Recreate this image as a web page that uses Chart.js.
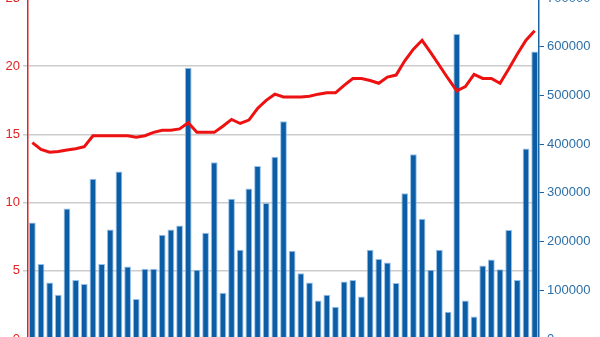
<!DOCTYPE html>
<html>
<head>
<meta charset="utf-8">
<script src="https://cdn.jsdelivr.net/npm/chart.js@4/dist/chart.umd.min.js"></script>
<style>
  html, body { margin: 0; padding: 0; background: #fff; overflow: hidden; }
  #wrap { position: absolute; left: 0; top: -20px; width: 600px; height: 380px; }
</style>
</head>
<body>
<div id="wrap"><canvas id="chart"></canvas></div>
<script>
// one category per bar
const labels = Array.from({ length: 59 }, (_, i) => 'P' + (i + 1));

// bars, right axis
const volumes = [
    239000, 154000, 116000, 91000, 268000, 121000, 113000, 329000, 154000, 225000,
    344000, 149000, 82000, 144000, 144000, 214000, 225000, 233000, 557000, 142000,
    218000, 363000, 95000, 288000, 183000, 309000, 355000, 279000, 374000, 447000,
    181000, 135000, 116000, 79000, 91000, 66000, 118000, 121000, 87000, 183000,
    164000, 157000, 115000, 299000, 379000, 247000, 142000, 183000, 56000, 626000,
    79000, 46000, 151000, 163000, 143000, 224000, 121000, 391000, 590000
];

// line, left axis
const prices = [
    14.4, 13.9, 13.7, 13.75, 13.85, 13.95, 14.1, 14.9, 14.9, 14.9,
    14.9, 14.9, 14.8, 14.9, 15.15, 15.3, 15.3, 15.4, 15.85, 15.15,
    15.15, 15.15, 15.6, 16.1, 15.8, 16.05, 16.9, 17.5, 17.95, 17.75,
    17.75, 17.75, 17.8, 17.95, 18.05, 18.05, 18.6, 19.1, 19.1, 18.95,
    18.75, 19.2, 19.35, 20.4, 21.25, 21.9, 21.0, 20.05, 19.1, 18.2,
    18.5, 19.4, 19.1, 19.1, 18.75, 19.8, 20.9, 21.9, 22.6
];

const leftMax = 25;
const rightMax = 700000;

const red = '#e32222';
const blue = '#1a64a3';

new Chart(document.getElementById('chart'), {
    data: {
        labels: labels,
        datasets: [
            {
                type: 'line',
                data: prices,
                yAxisID: 'yL',
                borderColor: '#ee1111',
                borderWidth: 3,
                pointRadius: 0,
                tension: 0
            },
            {
                type: 'bar',
                data: volumes,
                yAxisID: 'yR',
                backgroundColor: '#0b5ea6',
                borderColor: 'rgba(140,185,230,0.9)',
                borderWidth: 1,
                barPercentage: 0.78,
                categoryPercentage: 1
            }
        ]
    },
    options: {
        responsive: true,
        maintainAspectRatio: false,
        animation: false,
        layout: { autoPadding: false, padding: { top: 18, bottom: 21, left: 0, right: 0 } },
        plugins: { legend: { display: false }, tooltip: { enabled: false } },
        scales: {
            x: { display: false, offset: true },
            yL: {
                position: 'left',
                min: 0,
                max: leftMax,
                ticks: { stepSize: 5, color: red, font: { family: 'Liberation Sans', size: 13 }, padding: 3 },
                grid: { color: '#cccccc', lineWidth: 1.5, tickLength: 5 },
                border: { color: red, width: 1.5 },
                afterFit: s => { s.width = 28; }
            },
            yR: {
                position: 'right',
                min: 0,
                max: rightMax,
                ticks: { stepSize: 100000, color: '#2b6ea8', font: { family: 'Liberation Sans', size: 13 }, padding: 3,
                    callback: v => String(v) },
                grid: { drawOnChartArea: false, color: blue, tickLength: 5 },
                border: { color: blue, width: 1.5 },
                afterFit: s => { s.width = 61; }
            }
        }
    }
});
</script>
</body>
</html>
